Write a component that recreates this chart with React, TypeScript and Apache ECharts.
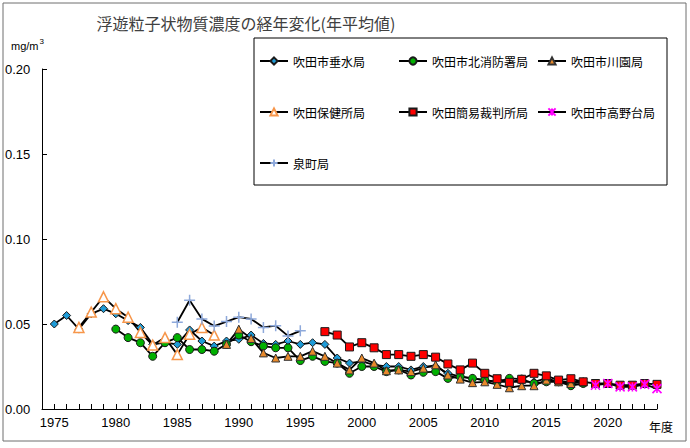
import React, { useEffect, useRef } from 'react';
import * as echarts from 'echarts';

const titleText = '浮遊粒子状物質濃度の経年変化(年平均値)';
const unitText = 'mg/m';
const xAxisName = '年度';
const yTicks = [0, 0.05, 0.1, 0.15, 0.2];
const xMin = 1974;
const xMax = 2024;

const seriesNames = [
  '吹田市垂水局',
  '吹田市北消防署局',
  '吹田市川園局',
  '吹田保健所局',
  '吹田簡易裁判所局',
  '吹田市高野台局',
  '泉町局',
];

const tarumiStart = 1975;
const tarumi = [
  0.050, 0.055, 0.047, 0.056, 0.059, 0.056, 0.052, 0.048, 0.038, 0.039,
  0.038, 0.0465, 0.040, 0.037, 0.040, 0.041, 0.0435, 0.0386, 0.038, 0.040,
  0.038, 0.039, 0.038, 0.030, 0.027, 0.028, 0.026, 0.025, 0.025, 0.023,
  0.025, 0.025, 0.021, 0.019, 0.018, 0.017, 0.016, 0.016, 0.016, 0.016,
  0.018, 0.016, 0.016, 0.016,
];

const kitaStart = 1980;
const kita = [
  0.047, 0.042, 0.039, 0.031, 0.039, 0.042, 0.035, 0.035, 0.034, 0.038,
  0.0435, 0.0396, 0.037, 0.036, 0.036, 0.0285, 0.031, 0.028, 0.027, 0.021,
  0.025, 0.025, 0.022, 0.023, 0.020, 0.0216, 0.022, 0.018, 0.019, 0.018,
  0.017, 0.016, 0.018, 0.0176, 0.015, 0.016, 0.016, 0.0137, 0.015,
];

const kawazonoStart = 1989;
const kawazono = [
  0.038, 0.047, 0.0415, 0.033, 0.030, 0.031, 0.031, 0.034, 0.031, 0.027,
  0.023, 0.030, 0.027, 0.0225, 0.023, 0.022, 0.024, 0.026, 0.020, 0.0176,
  0.0155, 0.016, 0.0145, 0.0125, 0.0137, 0.0137, 0.017, 0.016, 0.015, 0.016,
];

const hokenStart = 1977;
const hoken = [
  0.048, 0.057, 0.066, 0.059, 0.054, 0.045, 0.0376, 0.042, 0.032, 0.044,
  0.048, 0.0435,
];

const saibanStart = 1997;
const saiban = [
  0.0455, 0.0435, 0.0365, 0.039, 0.036, 0.032, 0.032, 0.031, 0.032, 0.0305,
  0.0265, 0.023, 0.027, 0.021, 0.0178, 0.0157, 0.0175, 0.021, 0.0195, 0.017,
  0.0178, 0.016, 0.015, 0.015, 0.014, 0.014, 0.015, 0.0145,
];

const takanodaiStart = 2019;
const takanodai = [0.014, 0.015, 0.013, 0.013, 0.0145, 0.012];

const izumiStart = 1985;
const izumi = [0.051, 0.064, 0.053, 0.0488, 0.0514, 0.054, 0.053, 0.048, 0.049, 0.043, 0.046];

const toPairs = (start: number, arr: number[]) => arr.map((v, i) => [start + i, v]);

const numFont = "'Liberation Sans', Arial, sans-serif";
const cjkFont = "'Noto Sans CJK JP', sans-serif";

export default function App() {
  const ref = useRef<HTMLDivElement>(null);
  useEffect(() => {
    const chart = echarts.init(ref.current!, null, { renderer: 'svg' });
    const line = { color: '#000', width: 1.8 };
    const mk = (name: string, start: number, arr: number[], symbol: string, size: number, item: any) => ({
      name,
      type: 'line',
      data: toPairs(start, arr),
      symbol,
      symbolSize: size,
      lineStyle: line,
      itemStyle: item,
      emphasis: { disabled: true },
    });
    const legendBase = {
      orient: 'vertical',
      top: 54,
      itemGap: 37,
      itemWidth: 28,
      itemHeight: 9,
      padding: 0,
      selectedMode: false,
      textStyle: { fontSize: 12, lineHeight: 14, fontFamily: cjkFont, color: '#000' },
    };
    chart.setOption({
      animation: false,
      backgroundColor: '#fff',
      grid: { left: 42, right: 33, top: 69, bottom: 39 },
      legend: [
        { ...legendBase, left: 259, data: [seriesNames[0], seriesNames[3], seriesNames[6]] },
        { ...legendBase, left: 398, data: [seriesNames[1], seriesNames[4]] },
        { ...legendBase, left: 537, data: [seriesNames[2], seriesNames[5]] },
      ],
      xAxis: {
        type: 'value',
        min: xMin,
        max: xMax,
        interval: 1,
        axisLine: { lineStyle: { color: '#000', width: 1 } },
        axisTick: { inside: true, length: 5, lineStyle: { color: '#000' } },
        axisLabel: {
          formatter: (v: number) => (v % 5 === 0 ? String(v) : ''),
          fontFamily: numFont,
          fontSize: 13,
          color: '#000',
          margin: 7,
          showMinLabel: true,
          showMaxLabel: true,
        },
        splitLine: { show: false },
      },
      yAxis: {
        type: 'value',
        min: yTicks[0],
        max: yTicks[yTicks.length - 1],
        interval: 0.05,
        axisLine: { show: true, lineStyle: { color: '#000', width: 1 } },
        axisTick: { show: true, inside: true, length: 5, lineStyle: { color: '#000' } },
        axisLabel: {
          formatter: (v: number) => v.toFixed(2),
          align: 'left',
          margin: 37,
          fontFamily: numFont,
          fontSize: 13,
          color: '#000',
        },
        splitLine: { show: false },
      },
      series: [
        mk(seriesNames[0], tarumiStart, tarumi, 'diamond', 8, { color: '#1E9BD7', borderColor: '#1a1a1a', borderWidth: 1 }),
        mk(seriesNames[1], kitaStart, kita, 'circle', 8, { color: '#00B000', borderColor: '#1a1a1a', borderWidth: 1 }),
        mk(seriesNames[2], kawazonoStart, kawazono, 'triangle', 8, { color: '#E8892B', borderColor: '#333', borderWidth: 1 }),
        mk(seriesNames[3], hokenStart, hoken, 'triangle', 10, { color: '#fff', borderColor: '#F7964A', borderWidth: 1.5 }),
        mk(seriesNames[4], saibanStart, saiban, 'rect', 8, { color: '#FF0000', borderColor: '#1a1a1a', borderWidth: 1 }),
        mk(seriesNames[5], takanodaiStart, takanodai, 'path://M0,0L10,10M10,0L0,10M5,0L5,10', 9, { color: '#FF00FF', borderColor: '#FF00FF', borderWidth: 1.6 }),
        mk(seriesNames[6], izumiStart, izumi, 'path://M5,0L5,10M0,5L10,5', 11, { color: '#8EA9DB', borderColor: '#8EA9DB', borderWidth: 1.5 }),
      ],
      graphic: [
        { type: 'rect', shape: { x: 3, y: 3, width: 683, height: 438 }, style: { fill: 'none', stroke: '#6f6f6f', lineWidth: 1 }, z: -1 },
        { type: 'rect', shape: { x: 254, y: 38, width: 413, height: 147 }, style: { fill: 'none', stroke: '#000', lineWidth: 1 } },
        { type: 'text', x: 246, y: 23, style: { text: titleText, fontSize: 16, fontFamily: cjkFont, fill: '#404040', align: 'center', verticalAlign: 'middle' } },
        { type: 'text', x: 11, y: 46, style: { text: unitText, fontSize: 11, fontFamily: numFont, fill: '#000', align: 'left', verticalAlign: 'middle' } },
        { type: 'text', x: 39.5, y: 41, style: { text: '3', fontSize: 8, fontFamily: numFont, fill: '#000', align: 'left', verticalAlign: 'middle' } },
        { type: 'text', x: 661, y: 426, style: { text: xAxisName, fontSize: 12, fontFamily: cjkFont, fill: '#000', align: 'center', verticalAlign: 'middle' } },
      ],
    });
    return () => chart.dispose();
  }, []);
  return <div ref={ref} style={{ position: 'absolute', left: 0, top: 0, width: 690, height: 448 }} />;
}
